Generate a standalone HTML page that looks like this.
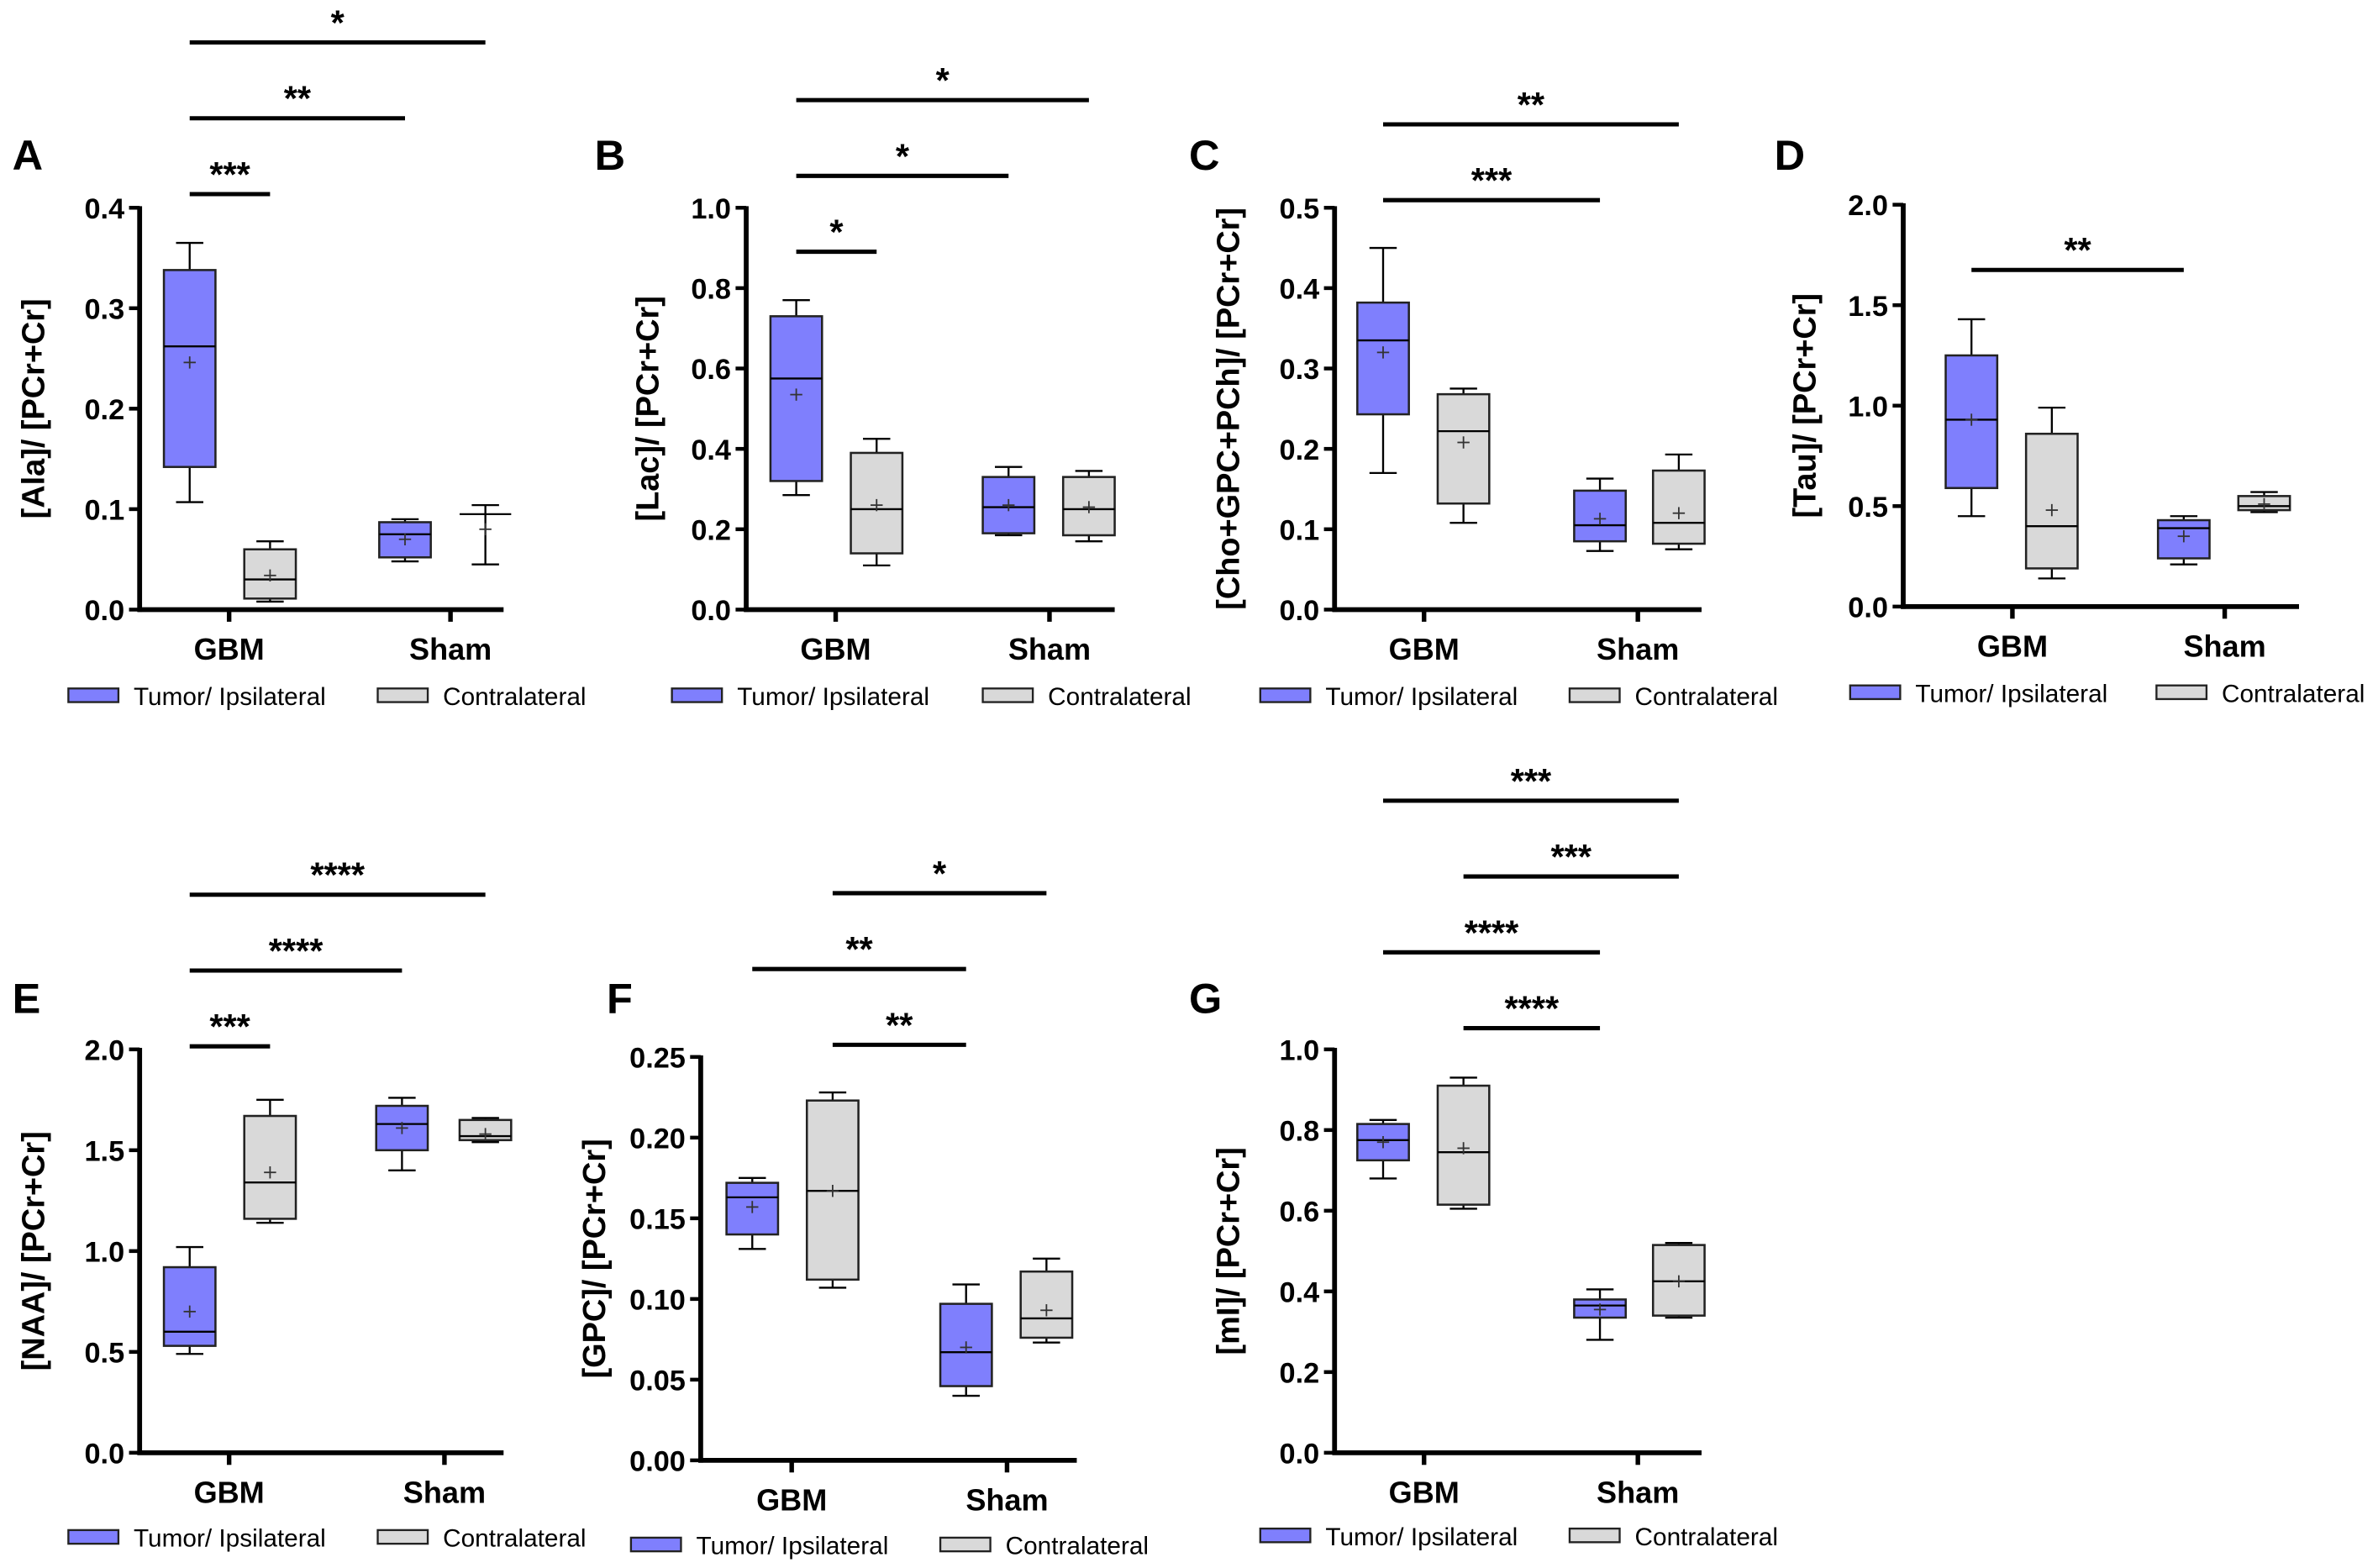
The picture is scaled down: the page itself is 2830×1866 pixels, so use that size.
<!DOCTYPE html>
<html><head><meta charset="utf-8">
<style>
html,body{margin:0;padding:0;background:#fff;}
svg{display:block;font-family:"Liberation Sans",Arial,sans-serif;}
</style></head>
<body>
<svg id="fig" width="2830" height="1866" viewBox="0 0 1568 1034" xmlns="http://www.w3.org/2000/svg"></svg>
<script>
// ---- data (per panel A..G; series order: GBM-tumor, GBM-contra, Sham-tumor, Sham-contra)
const panelLetters = ["A","B","C","D","E","F","G"];
const yTitles = ["[Ala]/ [PCr+Cr]","[Lac]/ [PCr+Cr]","[Cho+GPC+PCh]/ [PCr+Cr]","[Tau]/ [PCr+Cr]","[NAA]/ [PCr+Cr]","[GPC]/ [PCr+Cr]","[mI]/ [PCr+Cr]"];
const categories = ["GBM","Sham"];
const seriesNames = ["Tumor/ Ipsilateral","Contralateral"];
const yMaxes = [0.4,1.0,0.5,2.0,2.0,0.25,1.0];
const tickSteps = [0.1,0.2,0.1,0.5,0.5,0.05,0.2];
const tickDecimals = [1,1,1,1,1,2,1];
const mins = [[.107,.008,.048,.045],[.285,.11,.185,.17],[.17,.108,.073,.075],[.45,.14,.21,.47],[.49,1.14,1.40,1.54],[.131,.107,.040,.073],[.68,.605,.28,.335]];
const q1s = [[.142,.011,.052,.095],[.32,.14,.19,.185],[.243,.132,.085,.082],[.59,.19,.24,.48],[.53,1.16,1.50,1.55],[.140,.112,.046,.076],[.725,.615,.335,.34]];
const medians = [[.262,.030,.075,.095],[.575,.25,.255,.25],[.335,.222,.105,.108],[.93,.40,.39,.50],[.60,1.34,1.63,1.57],[.163,.167,.067,.088],[.775,.745,.365,.425]];
const q3s = [[.338,.060,.087,.095],[.73,.39,.33,.33],[.382,.268,.148,.173],[1.25,.86,.43,.55],[.92,1.67,1.72,1.65],[.172,.223,.097,.117],[.815,.91,.38,.515]];
const maxs = [[.365,.068,.090,.104],[.77,.425,.355,.345],[.45,.275,.163,.193],[1.43,.99,.45,.57],[1.02,1.75,1.76,1.66],[.175,.228,.109,.125],[.825,.93,.405,.52]];
const means = [[.246,.034,.070,.080],[.535,.26,.26,.255],[.32,.208,.113,.12],[.93,.48,.35,.51],[.70,1.39,1.61,1.58],[.157,.167,.070,.093],[.77,.755,.355,.425]];
// significance bars: [fromSeries, toSeries, label]
const sigBars = [
 [[0,1,"***"],[0,2,"**"],[0,3,"*"]],
 [[0,1,"*"],[0,2,"*"],[0,3,"*"]],
 [[0,2,"***"],[0,3,"**"]],
 [[0,2,"**"]],
 [[0,1,"***"],[0,2,"****"],[0,3,"****"]],
 [[1,2,"**"],[0,2,"**"],[1,3,"*"]],
 [[1,2,"****"],[0,2,"****"],[1,3,"***"],[0,3,"***"]]
];

// ---- layout
const layouts = [
 {ax:92,y0:402,yTop:137,xEnd:332,gx:[125,178,267,320],cat:[151,297],titleX:29,letterX:8,letterY:112,sigY:128,legY:459,leg:[45,249]},
 {ax:492,y0:402,yTop:137,xEnd:735,gx:[525,578,665,718],cat:[551,692],titleX:434,letterX:392,letterY:112,sigY:166,legY:459,leg:[443,648]},
 {ax:880,y0:402,yTop:137,xEnd:1122,gx:[912,965,1055,1107],cat:[939,1080],titleX:817,letterX:784,letterY:112,sigY:132,legY:459,leg:[831,1035]},
 {ax:1255,y0:400,yTop:135,xEnd:1516,gx:[1300,1353,1440,1493],cat:[1327,1467],titleX:1197,letterX:1170,letterY:112,sigY:178,legY:457,leg:[1220,1422]},
 {ax:92,y0:958,yTop:692,xEnd:332,gx:[125,178,265,320],cat:[151,293],titleX:29,letterX:8,letterY:668,sigY:690,legY:1014,leg:[45,249]},
 {ax:462,y0:963,yTop:697,xEnd:710,gx:[496,549,637,690],cat:[522,664],titleX:399,letterX:400,letterY:668,sigY:689,legY:1019,leg:[416,620]},
 {ax:880,y0:958,yTop:692,xEnd:1122,gx:[912,965,1055,1107],cat:[939,1080],titleX:817,letterX:784,letterY:668,sigY:678,legY:1013,leg:[831,1035]}
];
const COLORS=["#7f7ffd","#d9d9d9"];
const svg=document.getElementById('fig');
const NS="http://www.w3.org/2000/svg";
function mk(tag,attrs,parent,text){const e=document.createElementNS(NS,tag);for(const k in attrs)e.setAttribute(k,attrs[k]);if(text!==undefined)e.textContent=text;(parent||svg).appendChild(e);return e;}

layouts.forEach((L,p)=>{
  const g=mk('g',{});
  
  
  const yS=v=>L.y0-(v/yMaxes[p])*(L.y0-L.yTop);
  const lt=mk('text',{x:L.letterX,y:L.letterY,'font-size':28,'font-weight':'bold'},g,panelLetters[p]);
  
  
  const ya=mk('line',{x1:L.ax,y1:L.yTop-1,x2:L.ax,y2:L.y0+1.5,stroke:'#000','stroke-width':3.2},g);
  
  
  const xa=mk('line',{x1:L.ax-1.5,y1:L.y0,x2:L.xEnd,y2:L.y0,stroke:'#000','stroke-width':3.2},g);
  
  
  const n=Math.round(yMaxes[p]/tickSteps[p]);
  for(let i=0;i<=n;i++){
    const v=i*tickSteps[p],y=yS(v);
    mk('line',{x1:L.ax-7,y1:y,x2:L.ax,y2:y,stroke:'#000','stroke-width':2.5},g);
    const t=mk('text',{x:L.ax-10,y:y+7,'font-size':19,'font-weight':'bold','text-anchor':'end'},g,v.toFixed(tickDecimals[p]));
    
    
  }
  categories.forEach((c,i)=>{
    mk('line',{x1:L.cat[i],y1:L.y0,x2:L.cat[i],y2:L.y0+8,stroke:'#000','stroke-width':3},g);
    const t=mk('text',{x:L.cat[i],y:L.y0+33,'font-size':20,'font-weight':'bold','text-anchor':'middle'},g,c);
    
    
  });
  const cy=(L.y0+L.yTop)/2;
  const yt=mk('text',{x:L.titleX,y:cy,'font-size':21,'font-weight':'600','text-anchor':'middle',transform:`rotate(-90 ${L.titleX} ${cy})`},g,yTitles[p]);
  
  
  for(let s=0;s<4;s++){
    const x=L.gx[s],hw=17,cw=9,col=COLORS[s%2];
    const bg=mk('g',{},g);
    
    
    const yq1=yS(q1s[p][s]),yq3=yS(q3s[p][s]);
    mk('line',{x1:x,y1:yS(maxs[p][s]),x2:x,y2:yq3,stroke:'#000','stroke-width':1.3},bg);
    mk('line',{x1:x,y1:yq1,x2:x,y2:yS(mins[p][s]),stroke:'#000','stroke-width':1.3},bg);
    mk('line',{x1:x-cw,y1:yS(maxs[p][s]),x2:x+cw,y2:yS(maxs[p][s]),stroke:'#000','stroke-width':1.3},bg);
    mk('line',{x1:x-cw,y1:yS(mins[p][s]),x2:x+cw,y2:yS(mins[p][s]),stroke:'#000','stroke-width':1.3},bg);
    if(Math.abs(yq1-yq3)>0.5) mk('rect',{x:x-hw,y:yq3,width:2*hw,height:yq1-yq3,fill:col,stroke:'#222','stroke-width':1.4},bg);
    mk('line',{x1:x-hw,y1:yS(medians[p][s]),x2:x+hw,y2:yS(medians[p][s]),stroke:'#000','stroke-width':1.3},bg);
    const my=yS(means[p][s]);
    mk('line',{x1:x-4,y1:my,x2:x+4,y2:my,stroke:'#333','stroke-width':1},bg);
    mk('line',{x1:x,y1:my-4,x2:x,y2:my+4,stroke:'#333','stroke-width':1},bg);
  }
  sigBars[p].forEach((b,i)=>{
    const y=L.sigY-50*i;
    const sg=mk('g',{},g);
    
    
    mk('line',{x1:L.gx[b[0]],y1:y,x2:L.gx[b[1]],y2:y,stroke:'#000','stroke-width':2.8},sg);
    mk('text',{x:(L.gx[b[0]]+L.gx[b[1]])/2,y:y-5,'font-size':23,'font-weight':'bold','text-anchor':'middle'},sg,b[2]);
  });
  seriesNames.forEach((nm,i)=>{
    const lg=mk('g',{},g);
    
    
    mk('rect',{x:L.leg[i],y:L.legY-5,width:33,height:9,fill:COLORS[i],stroke:'#222','stroke-width':1.3},lg);
    mk('text',{x:L.leg[i]+43,y:L.legY+6,'font-size':16.5},lg,nm);
  });
});
</script>
</body></html>
